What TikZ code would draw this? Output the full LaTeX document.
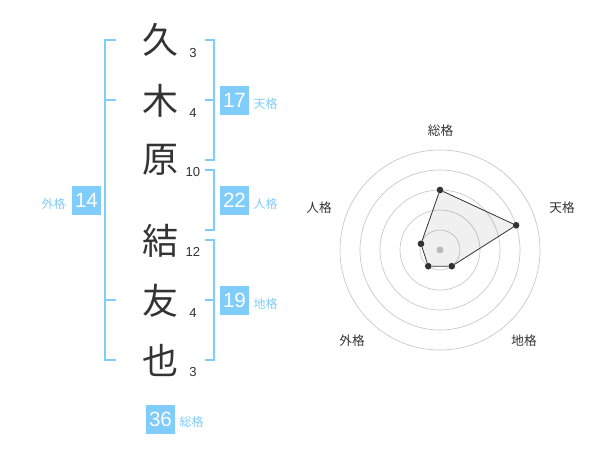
\documentclass[tikz,border=0pt]{standalone}
\usepackage{fontspec}
\setmainfont{Liberation Sans}
\newfontfamily\jpfont{Noto Sans CJK JP}
\definecolor{sky}{RGB}{128,204,250}
\definecolor{ink}{RGB}{51,51,51}
\tikzset{
  kanji/.style={inner sep=0, text=ink, font=\jpfont\fontsize{27}{27}\selectfont},
  strokes/.style={inner sep=0, text=ink, font=\fontsize{9.8}{10}\selectfont},
  bracket/.style={draw=sky, line width=1.5pt},
  score/.style={fill=sky, text=white, inner sep=0, minimum size=21.75pt, font=\fontsize{15.5}{16}\selectfont},
  kaku/.style={inner sep=0, text=sky, font=\jpfont\fontsize{9}{9}\selectfont},
  axis/.style={inner sep=0, text=ink, font=\jpfont\fontsize{9.5}{10}\selectfont},
  ring/.style={draw=black!22, line width=0.5pt},
  vertex/.style={circle, fill=ink, inner sep=0, minimum size=5pt}
}

\begin{document}
\begin{tikzpicture}[x=0.75pt, y=-0.75pt]
\useasboundingbox (0,0) rectangle (600,470);
% Name
\node[kanji] (k1) at (160,40) {久};
\node[kanji] (k2) at (160,101) {木};
\node[kanji] (k3) at (160,160) {原};
\node[kanji] (k4) at (160,241) {結};
\node[kanji] (k5) at (160,301) {友};
\node[kanji] (k6) at (160,360) {也};
\node[strokes] (s1) at (193,53) {3};
\node[strokes] (s2) at (193,113) {4};
\node[strokes] (s3) at (193,172.5) {10};
\node[strokes] (s4) at (193,252) {12};
\node[strokes] (s5) at (193,313) {4};
\node[strokes] (s6) at (193,372.5) {3};
% Brackets
\draw[bracket] (116,40) -- (105,40) -- (105,360) -- (116,360);
\draw[bracket] (105,100) -- (116,100);
\draw[bracket] (105,300) -- (116,300);
\draw[bracket] (205,40) -- (214,40) -- (214,160) -- (205,160);
\draw[bracket] (205,100) -- (214,100);
\draw[bracket] (205,170) -- (214,170) -- (214,230) -- (205,230);
\draw[bracket] (205,240) -- (214,240) -- (214,360) -- (205,360);
\draw[bracket] (205,300) -- (214,300);
% Scores
\node[score] (ten) at (234.5,100.5) {17};
\node[score] (jin) at (234.5,200.5) {22};
\node[score] (chi) at (234.5,300.5) {19};
\node[score] (gai) at (86.5,200.5) {14};
\node[score] (sou) at (160.5,419) {36};
\node[kaku] (tenl) at (265.5,103.5) {天格};
\node[kaku] (jinl) at (265.5,203.5) {人格};
\node[kaku] (chil) at (265.5,303.5) {地格};
\node[kaku] (gail) at (53.5,203.5) {外格};
\node[kaku] (soul) at (191.5,422) {総格};
% Radar
\begin{scope}[shift={(440,250)}]
\draw[ring] (0,0) circle [radius=20];
\draw[ring] (0,0) circle [radius=40];
\draw[ring] (0,0) circle [radius=60];
\draw[ring] (0,0) circle [radius=80];
\draw[ring] (0,0) circle [radius=100];
\fill[black!22] (0,0) circle [radius=3.5];
\node[vertex] (p1) at (-90:60) {};
\node[vertex] (p2) at (-18:80) {};
\node[vertex] (p3) at (54:20) {};
\node[vertex] (p4) at (126:20) {};
\node[vertex] (p5) at (198:20) {};
\end{scope}
\fill[black, fill opacity=0.06] (p1.center) -- (p2.center) -- (p3.center) -- (p4.center) -- (p5.center) -- cycle;
\draw[ink, line width=0.6pt] (p1) -- (p2) -- (p3) -- (p4) -- (p5) -- (p1);
\node[axis] (a1) at (440.5,131) {総格};
\node[axis] (a2) at (562,208) {天格};
\node[axis] (a3) at (524,341) {地格};
\node[axis] (a4) at (352,341) {外格};
\node[axis] (a5) at (319,208) {人格};
\end{tikzpicture}
\end{document}
